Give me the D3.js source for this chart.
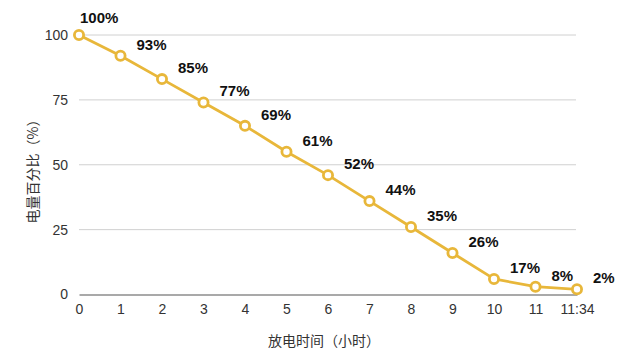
<!DOCTYPE html>
<html><head><meta charset="utf-8">
<script src="https://cdn.jsdelivr.net/npm/d3@7"></script>
<style>
html,body{margin:0;padding:0;background:#fff;}
svg{display:block;font-family:"Liberation Sans",Arial,"Noto Sans CJK SC",sans-serif;}
</style></head>
<body><svg id="c" width="640" height="360"></svg>
<script>
const categories = ["0","1","2","3","4","5","6","7","8","9","10","11","11:34"];
const values = [100,92,83,74,65,55,46,36,26,16,6,3,2];
const labels = ["100%","93%","85%","77%","69%","61%","52%","44%","35%","26%","17%","8%","2%"];
const yTicks = [0,25,50,75,100];
const xTitle = "放电时间（小时）";
const yTitle = "电量百分比（%）";

(function(){
const svg = d3.select("#c");
const mLeft = 79, mRight = 577, mTop = 35, mBottom = 294.5;
const color = "#E8B73A";

const x = d3.scalePoint().domain(categories).range([mLeft, mRight]);
const y = d3.scaleLinear().domain([0,100]).range([mBottom, mTop]);

// grid
svg.append("g").selectAll("line").data(yTicks.filter(d=>d>0)).join("line")
  .attr("x1", mLeft).attr("x2", mRight-1)
  .attr("y1", d=>y(d)).attr("y2", d=>y(d))
  .attr("stroke", "#d0d0d0").attr("stroke-width", 1);

// y axis
const ya = svg.append("g").attr("transform", `translate(${mLeft},0)`)
  .call(d3.axisLeft(y).tickValues(yTicks).tickSize(0).tickPadding(11));
ya.select(".domain").remove();
ya.selectAll("text").attr("font-size", 14).attr("fill", "#333")
  .attr("font-family", "Liberation Sans, Arial, sans-serif");

// x axis
const xa = svg.append("g").attr("transform", `translate(0,${mBottom})`)
  .call(d3.axisBottom(x).tickSize(0).tickPadding(10));
xa.select(".domain").attr("stroke", "#555").attr("stroke-width", 1.2);
xa.selectAll("text").attr("font-size", 14).attr("fill", "#333")
  .attr("font-family", "Liberation Sans, Arial, sans-serif");

// line
svg.append("path").datum(values)
  .attr("fill", "none").attr("stroke", color).attr("stroke-width", 2.8)
  .attr("stroke-linejoin", "round")
  .attr("d", d3.line().x((d,i)=>x(categories[i])).y(d=>y(d)));

// points
svg.append("g").selectAll("circle").data(values).join("circle")
  .attr("cx", (d,i)=>x(categories[i])).attr("cy", d=>y(d))
  .attr("r", 4.6).attr("fill", "#fff").attr("stroke", color).attr("stroke-width", 2.8);

// labels
svg.append("g").selectAll("text").data(values).join("text")
  .attr("x", (d,i)=>x(categories[i]) + (i===0 ? 1 : 16))
  .attr("y", (d,i)=>y(d) + (i===0 ? -12 : -6))
  .attr("font-size", 15).attr("font-weight", "bold").attr("fill", "#111")
  .attr("font-family", "Liberation Sans, Arial, sans-serif")
  .text((d,i)=>labels[i]);

// titles
svg.append("text").attr("x", 324).attr("y", 346).attr("text-anchor", "middle")
  .attr("font-size", 14).attr("fill", "#333")
  .attr("font-family", "Noto Sans CJK SC, sans-serif").text(xTitle);
svg.append("text").attr("transform", "translate(38,168) rotate(-90)").attr("text-anchor", "middle")
  .attr("font-size", 14).attr("fill", "#333")
  .attr("font-family", "Noto Sans CJK SC, sans-serif").text(yTitle);
})();
</script></body></html>
